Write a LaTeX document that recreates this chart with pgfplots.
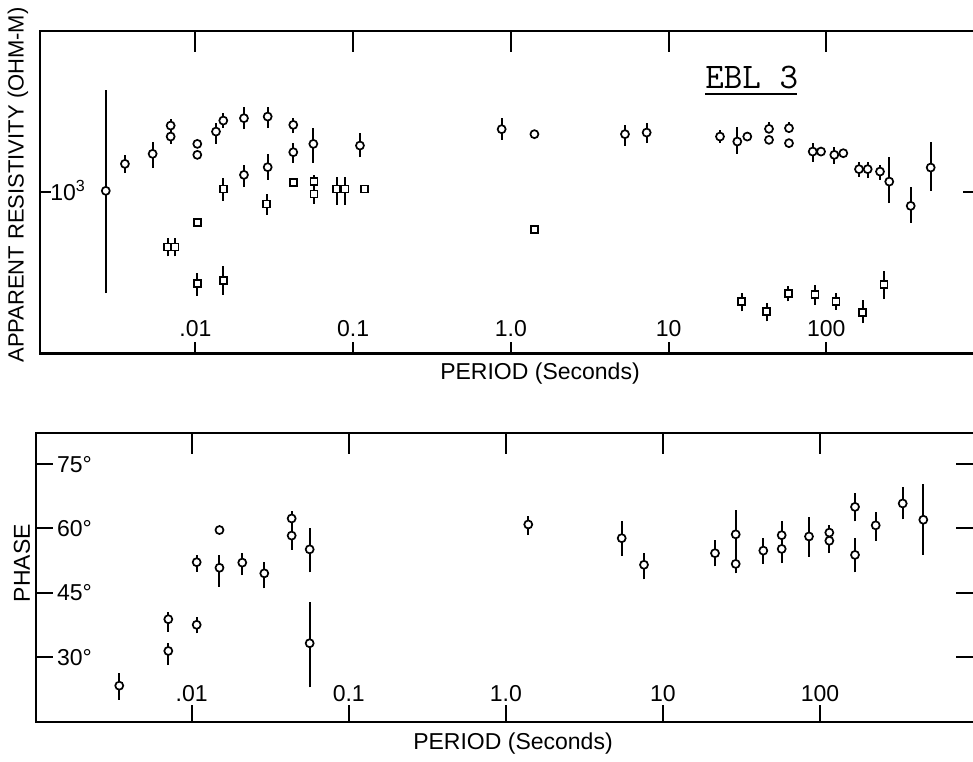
\documentclass[border=0pt]{standalone}
\usepackage{fontspec}
\setmainfont{Liberation Sans}
\usepackage{pgfplots}
\pgfplotsset{compat=1.18}
\pgfplotsset{
  myBars/.style={black, line width=1pt, no marks, unbounded coords=jump, forget plot},
  myCirc/.style={only marks, mark=*, mark size=2pt, mark options={fill=white, draw=black, line width=0.85pt}},
  mySq/.style={only marks, mark=square*, mark size=1.75pt, mark options={fill=white, draw=black, line width=0.85pt}},
}
\begin{document}
\begin{tikzpicture}
\useasboundingbox (0pt,0pt) rectangle (486.5pt,-380.5pt);
\clip (0pt,0pt) rectangle (486.5pt,-380.5pt);
% ---------------- top panel: apparent resistivity ----------------
\begin{axis}[scale only axis, xmode=log, xmax=1000,
  xtick={0.01,0.1,1,10,100}, xminorticks=false, yminorticks=false,
  tick align=inside, tick style={black, line width=1pt},
  axis line style={black, line width=1.2pt},
  tick label style={font=\fontsize{11.5}{13}\selectfont, inner sep=0pt},
  at={(20pt,-15.5pt)}, anchor=north west, width=472pt, height=161.15pt,
  xmin=0.001033, ymode=log, ymin=100, ymax=10000,
  ytick={1000}, yticklabels={10\textsuperscript{3}},
  xticklabels={.01,0.1,1.0,10,100},
  xtick pos=left, ytick pos=left, major tick length=5.5pt,
  xticklabel style={anchor=base, yshift=8.3pt},
  yticklabel style={anchor=base west, xshift=5pt, yshift=-4.1pt}]
\addplot[myBars] coordinates {
(0.00270,236) (0.00270,4311) (0.00270,nan)
(0.00357,1312) (0.00357,1704) (0.00357,nan)
(0.00535,1409) (0.00535,2061) (0.00535,nan)
(0.00696,1993) (0.00696,2837) (0.00696,nan)
(0.01349,1993) (0.01349,2679) (0.01349,nan)
(0.01501,2495) (0.01501,3118) (0.01501,nan)
(0.0203,2459) (0.0203,3368) (0.0203,nan)
(0.0287,2495) (0.0287,3396) (0.0287,nan)
(0.0417,2323) (0.0417,2877) (0.0417,nan)
(0.0417,1526) (0.0417,2014) (0.0417,nan)
(0.0559,1526) (0.0559,2495) (0.0559,nan)
(0.0203,1074) (0.0203,1477) (0.0203,nan)
(0.0287,1192) (0.0287,1729) (0.0287,nan)
(0.1104,1649) (0.1104,2323) (0.1104,nan)
(0.874,2111) (0.874,2877) (0.874,nan)
(5.29,1938) (5.29,2615) (5.29,nan)
(7.26,2014) (7.26,2679) (7.26,nan)
(21.18,2014) (21.18,2435) (21.18,nan)
(27.27,1729) (27.27,2553) (27.27,nan)
(43.32,2470) (43.32,2741) (43.32,nan)
(58.0,2495) (58.0,2741) (58.0,nan)
(82.0,1548) (82.0,2031) (82.0,nan)
(112.4,1498) (112.4,1918) (112.4,nan)
(161.2,1250) (161.2,1549) (161.2,nan)
(183.0,1221) (183.0,1549) (183.0,nan)
(219.0,1192) (219.0,1477) (219.0,nan)
(250.8,855) (250.8,1663) (250.8,nan)
(343.0,648) (343.0,1074) (343.0,nan)
(459.2,1023) (459.2,2061) (459.2,nan)
(0.00666,399) (0.00666,518) (0.00666,nan)
(0.00741,399) (0.00741,518) (0.00741,nan)
(0.01027,227) (0.01027,317) (0.01027,nan)
(0.0150,231) (0.0150,346) (0.0150,nan)
(0.0150,887) (0.0150,1221) (0.0150,nan)
(0.0283,723) (0.0283,976) (0.0283,nan)
(0.0564,846) (0.0564,1280) (0.0564,nan)
(0.0786,834) (0.0786,1250) (0.0786,nan)
(0.0887,834) (0.0887,1250) (0.0887,nan)
(29.08,182) (29.08,236) (29.08,nan)
(41.89,158) (41.89,205) (41.89,nan)
(57.41,210) (57.41,260) (57.41,nan)
(84.78,200) (84.78,266) (84.78,nan)
(115.2,186) (115.2,238) (115.2,nan)
(170.1,154) (170.1,215) (170.1,nan)
(232.2,217) (232.2,326) (232.2,nan)
};
\addplot[myCirc] coordinates {
(0.00270,1019) (0.00357,1498) (0.00535,1729) (0.00696,2589) (0.00696,2213)
(0.01027,1993) (0.01027,1704) (0.01349,2376) (0.01501,2781) (0.0203,2877)
(0.0287,2944) (0.0417,2615) (0.0417,1770) (0.0559,1993) (0.0203,1280)
(0.0287,1429) (0.1104,1946) (0.874,2459) (1.41,2290) (5.29,2290) (7.26,2343)
(21.18,2213) (27.27,2061) (31.55,2213) (43.32,2470) (43.32,2111) (58.0,2495)
(58.0,2014) (82.0,1786) (92.6,1786) (112.4,1704) (128.2,1745) (161.2,1389)
(183.0,1389) (219.0,1342) (250.8,1163) (343.0,822) (459.2,1421)
};
\addplot[mySq] coordinates {
(0.00666,456) (0.00741,456) (0.01027,648) (0.01027,270) (0.0150,283)
(0.0150,1044) (0.0283,846) (0.0417,1147) (0.0564,1163) (0.0564,976)
(0.0786,1044) (0.0887,1044) (0.1176,1044) (1.41,584) (29.08,210)
(41.89,182) (57.41,236) (84.78,231) (115.2,210) (170.1,179) (232.2,266)
};
\end{axis}
\begin{axis}[scale only axis, xmode=log, xmax=1000,
  xtick={0.01,0.1,1,10,100}, xminorticks=false, yminorticks=false,
  tick align=inside, tick style={black, line width=1pt},
  axis line style={draw=none},
  xtick pos=right, ytick pos=right, xticklabels={}, yticklabels={},
  at={(20pt,-15.5pt)}, anchor=north west, width=472pt, height=161.15pt,
  xmin=0.001033, ymode=log, ymin=100, ymax=10000, ytick={1000}, major tick length=10.5pt]
\addplot[draw=none] coordinates {(1,1000)};
\end{axis}
% ---------------- bottom panel: phase ----------------
\begin{axis}[scale only axis, xmode=log, xmax=1000,
  xtick={0.01,0.1,1,10,100}, xminorticks=false, yminorticks=false,
  tick align=inside, tick style={black, line width=1pt},
  axis line style={black, line width=1.2pt},
  tick label style={font=\fontsize{11.5}{13}\selectfont, inner sep=0pt},
  at={(18pt,-216.35pt)}, anchor=north west, width=470.6pt, height=144.5pt,
  xmin=0.001021, ymin=14.9, ymax=82.3,
  ytick={30,45,60,75}, yticklabels={30°,45°,60°,75°},
  xticklabels={.01,0.1,1.0,10,100},
  xtick pos=left, ytick pos=left, major tick length=8.4pt,
  xticklabel style={anchor=base, yshift=10pt},
  yticklabel style={anchor=base west, xshift=10.35pt, yshift=-4.1pt}]
\addplot[myBars] coordinates {
(0.00346,20.0) (0.00346,26.2) (0.00346,nan)
(0.00710,35.9) (0.00710,40.6) (0.00710,nan)
(0.00710,28.1) (0.00710,33.2) (0.00710,nan)
(0.01076,49.9) (0.01076,53.8) (0.01076,nan)
(0.01076,35.5) (0.01076,39.4) (0.01076,nan)
(0.01503,46.4) (0.01503,53.8) (0.01503,nan)
(0.02099,49.1) (0.02099,54.2) (0.02099,nan)
(0.02899,46.0) (0.02899,52.2) (0.02899,nan)
(0.04329,55.0) (0.04329,64.1) (0.04329,nan)
(0.05637,49.7) (0.05637,60.0) (0.05637,nan)
(0.05637,22.9) (0.05637,42.9) (0.05637,nan)
(1.388,58.4) (1.388,62.9) (1.388,nan)
(5.460,53.6) (5.460,61.7) (5.460,nan)
(7.570,48.1) (7.570,54.3) (7.570,nan)
(21.43,51.1) (21.43,57.3) (21.43,nan)
(29.03,49.5) (29.03,64.3) (29.03,nan)
(43.50,51.7) (43.50,57.7) (43.50,nan)
(56.96,51.9) (56.96,61.6) (56.96,nan)
(84.98,53.4) (84.98,62.7) (84.98,nan)
(114.5,54.2) (114.5,60.8) (114.5,nan)
(166.8,61.6) (166.8,68.2) (166.8,nan)
(166.8,49.7) (166.8,57.7) (166.8,nan)
(225.9,57.1) (225.9,63.9) (225.9,nan)
(335.6,62.1) (335.6,69.7) (335.6,nan)
(453.9,53.8) (453.9,70.3) (453.9,nan)
};
\addplot[myCirc] coordinates {
(0.00346,23.3) (0.00710,38.8) (0.00710,31.4) (0.01076,52.1) (0.01076,37.5)
(0.01503,59.6) (0.01503,50.8) (0.02099,52.0) (0.02899,49.5) (0.04329,62.3)
(0.04329,58.3) (0.05637,55.1) (0.05637,33.2) (1.388,60.9) (5.460,57.7)
(7.570,51.5) (21.43,54.2) (29.03,58.6) (29.03,51.7) (43.50,54.8)
(56.96,58.4) (56.96,55.2) (84.98,58.1) (114.5,59.0) (114.5,57.1)
(166.8,65.0) (166.8,53.8) (225.9,60.7) (335.6,65.8) (453.9,62.0)
};
\end{axis}
\begin{axis}[scale only axis, xmode=log, xmax=1000,
  xtick={0.01,0.1,1,10,100}, xminorticks=false, yminorticks=false,
  tick align=inside, tick style={black, line width=1pt},
  axis line style={draw=none},
  xtick pos=right, ytick pos=right, xticklabels={}, yticklabels={},
  at={(18pt,-216.35pt)}, anchor=north west, width=470.6pt, height=144.5pt,
  xmin=0.001021, ymin=14.9, ymax=82.3, ytick={30,45,60,75}, major tick length=10.5pt]
\addplot[draw=none] coordinates {(1,50)};
\end{axis}
% ---------------- labels ----------------
\node[rotate=90, font=\fontsize{11}{13}\selectfont] at (9pt,-92.5pt) {APPARENT RESISTIVITY (OHM-M)};
\node[font=\fontsize{11.5}{13}\selectfont] at (270pt,-186.65pt) {PERIOD (Seconds)};
\node[rotate=90, font=\fontsize{11.5}{13}\selectfont] at (11pt,-281.5pt) {PHASE};
\node[font=\fontsize{11.5}{13}\selectfont] at (256.5pt,-371.65pt) {PERIOD (Seconds)};
\node[anchor=base, font=\fontsize{18}{20}\ttfamily] at (375.85pt,-44.15pt) {EBL 3};
\draw[line width=0.75pt] (352.5pt,-46.9pt) -- (398.5pt,-46.9pt);
\end{tikzpicture}
\end{document}
